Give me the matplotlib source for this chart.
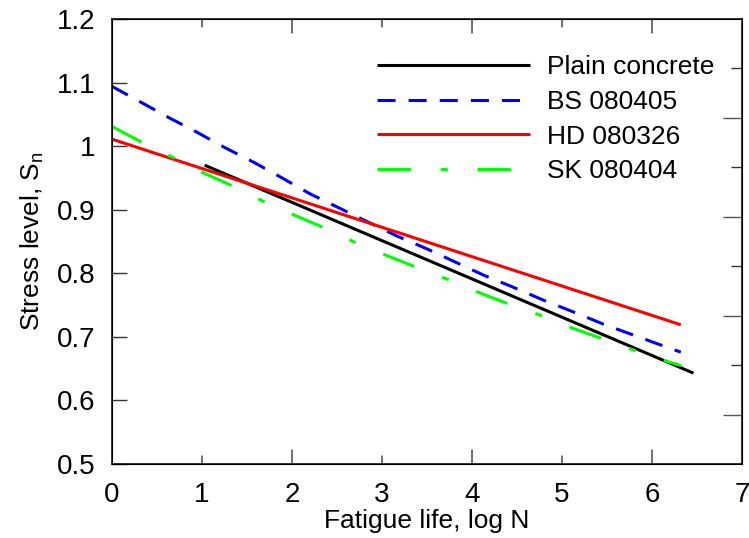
import matplotlib
matplotlib.use("Agg")
import matplotlib.pyplot as plt
from matplotlib.ticker import MultipleLocator, NullFormatter

plt.rcParams['font.family'] = ['Liberation Sans', 'DejaVu Sans']
plt.rcParams['lines.scale_dashes'] = False

labels = ["Plain concrete", "BS 080405", "HD 080326", "SK 080404"]
plain_x = [1.03, 6.46]
plain_y = [0.970, 0.643]
bs_x = [0.0, 0.31, 0.63, 0.93, 1.25, 1.57, 1.89, 2.20, 2.52, 2.84, 3.16, 3.49,
        3.81, 4.13, 4.46, 4.79, 5.13, 5.46, 5.79, 6.14, 6.32]
bs_y = [1.094, 1.070, 1.045, 1.023, 0.998, 0.975, 0.950, 0.925, 0.903, 0.881, 0.859, 0.839,
        0.818, 0.797, 0.778, 0.758, 0.739, 0.720, 0.703, 0.685, 0.676]
hd_x = [0.0, 6.32]
hd_y = [1.011, 0.719]
sk_x = [0.0, 0.32, 0.64, 1.00, 1.33, 1.67, 2.00, 2.35, 2.68, 3.05, 3.39, 3.74,
        4.09, 4.42, 4.76, 5.13, 5.49, 5.84, 6.20, 6.32]
sk_y = [1.031, 1.007, 0.985, 0.959, 0.938, 0.914, 0.893, 0.872, 0.850, 0.828, 0.809, 0.790,
        0.769, 0.751, 0.734, 0.713, 0.695, 0.677, 0.660, 0.655]

xticks = [0, 1, 2, 3, 4, 5, 6, 7]
yticks = [0.5, 0.6, 0.7, 0.8, 0.9, 1.0, 1.1, 1.2]
ytick_labels = ["0.5", "0.6", "0.7", "0.8", "0.9", "1", "1.1", "1.2"]

fig = plt.figure(figsize=(7.49, 5.38), dpi=100)
ax = fig.add_axes([0.1495, 0.1375, 0.8412, 0.8272])

lw = 2.2
ax.plot(plain_x, plain_y, color='black', lw=lw, label=labels[0], solid_capstyle='butt')
ax.plot(bs_x, bs_y, color='#0000ff', lw=lw, linestyle=(0, (13, 9.4)), label=labels[1])
ax.plot(hd_x, hd_y, color='#ff0000', lw=lw, label=labels[2], solid_capstyle='butt')
ax.plot(sk_x, sk_y, color='#00ff00', lw=lw, linestyle=(0, (24, 21.5, 5, 21.5)), label=labels[3])

ax.set_xlim(0, 7)
ax.set_ylim(0.5, 1.2)
ax.set_xticks(xticks)
ax.set_xticklabels([str(t) for t in xticks])
ax.set_yticks(yticks)
ax.set_yticklabels(ytick_labels)

fs = 19
ax.tick_params(axis='both', which='both', direction='in', labelsize=20, width=1.0, color='#333333')
ax.tick_params(axis='y', which='major', length=10.5, left=True, right=False, pad=12)
ax.tick_params(axis='x', which='major', length=0, top=False, bottom=True, pad=13)

# top/bottom tick marks: long at even, short at odd
for xv in range(1, 7):
    L = 14 if xv % 2 == 0 else 8
    ax.annotate('', xy=(xv, 0), xycoords=('data', 'axes fraction'),
                xytext=(0, L), textcoords='offset pixels',
                arrowprops=dict(arrowstyle='-', color='#333333', lw=1.0, shrinkA=0, shrinkB=0))
    ax.annotate('', xy=(xv, 1), xycoords=('data', 'axes fraction'),
                xytext=(0, -L), textcoords='offset pixels',
                arrowprops=dict(arrowstyle='-', color='#333333', lw=1.0, shrinkA=0, shrinkB=0))

for s in ax.spines.values():
    s.set_linewidth(1.1)

ax.set_xlabel("Fatigue life, log N", fontsize=fs, labelpad=1)
ax.set_ylabel(r"Stress level, S$_\mathregular{n}$", fontsize=fs, labelpad=8)

ax2 = ax.twinx()
ax2.set_ylim(0, 9)
ax2.yaxis.set_major_formatter(NullFormatter())
ax2.tick_params(axis='y', which='major', direction='in', length=14, width=1.0, color='#555555')
ax2.tick_params(axis='y', which='minor', direction='in', length=8, width=1.0, color='#333333')
ax2.set_yticks([1, 3, 5, 7])
ax2.set_yticks([2, 4, 6, 8], minor=True)

ax.legend(loc='upper left', bbox_to_anchor=(0.4206, 0.918), frameon=False, fontsize=fs,
          handlelength=5.8, handletextpad=0.64, labelspacing=0.40, borderpad=0, borderaxespad=0)

fig.savefig("out.png", dpi=100)
